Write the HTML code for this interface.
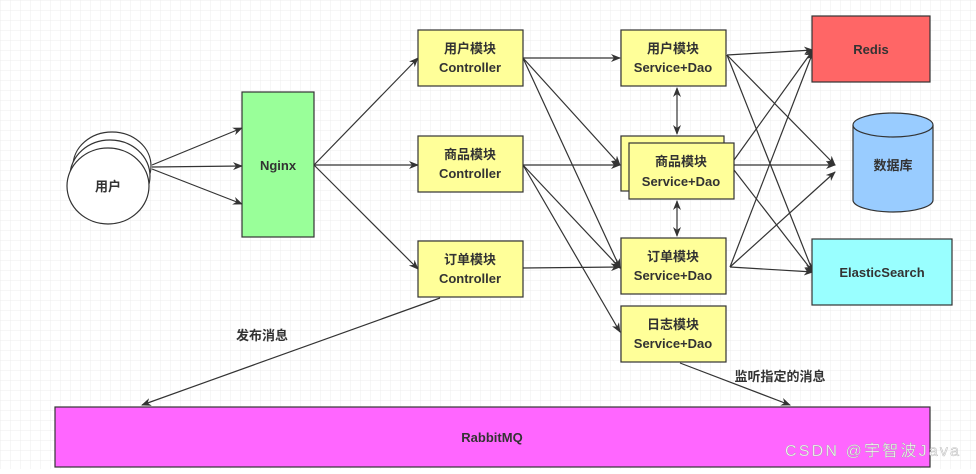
<!DOCTYPE html>
<html><head><meta charset="utf-8"><style>
html,body{margin:0;padding:0;background:#fff;}
svg text{font-family:"Liberation Sans","Noto Sans CJK SC",sans-serif;font-weight:bold;font-size:13px;fill:#333;}
</style></head><body>
<svg width="976" height="469" xmlns="http://www.w3.org/2000/svg">
<defs>
<pattern id="g" width="10" height="10" patternUnits="userSpaceOnUse"><path d="M10 0H0V10" fill="none" stroke="#ececec" stroke-width="1"/></pattern>
<marker id="a" markerWidth="10" markerHeight="8" refX="9" refY="4" orient="auto" markerUnits="userSpaceOnUse"><path d="M0 0L10 4L0 8L3 4Z" fill="#333"/></marker>
<marker id="s" markerWidth="10" markerHeight="8" refX="1" refY="4" orient="auto" markerUnits="userSpaceOnUse"><path d="M10 0L0 4L10 8L7 4Z" fill="#333"/></marker>
</defs>
<rect width="976" height="469" fill="url(#g)"/>
<g stroke="#333" stroke-width="1.2" fill="none" marker-end="url(#a)">
<path d="M152 165L242 128"/><path d="M152 167L242 166"/><path d="M152 169L242 204"/>
<path d="M314 165L418 58"/><path d="M314 165L418 165"/><path d="M314 165L418 269"/>
<path d="M523 58L620 58"/><path d="M523 58L620 165"/><path d="M523 58L620 268"/>
<path d="M523 165L620 165"/><path d="M523 165L620 268"/><path d="M523 165L620 332"/>
<path d="M523 268L620 267"/>
<path d="M727 55L813 50"/><path d="M727 55L835 165"/><path d="M727 55L813 272"/>
<path d="M734 160L813 50"/><path d="M734 165L835 165"/><path d="M734 170L813 272"/>
<path d="M730 267L813 52"/><path d="M730 267L835 172"/><path d="M730 267L813 272"/>
<path d="M677 88L677 134" marker-start="url(#s)"/><path d="M677 201L677 236" marker-start="url(#s)"/>
<path d="M440 298L142 405"/><path d="M680 363L790 405"/>
</g>
<g stroke="#333" stroke-width="1.2">
<ellipse cx="112" cy="166" rx="39" ry="34" fill="#fff"/>
<ellipse cx="110" cy="176" rx="40" ry="36" fill="#fff"/>
<ellipse cx="108" cy="186" rx="41" ry="38" fill="#fff"/>
<rect x="242" y="92" width="72" height="145" fill="#99ff99"/>
<rect x="418" y="30" width="105" height="56" fill="#ffff99"/>
<rect x="418" y="136" width="105" height="56" fill="#ffff99"/>
<rect x="418" y="241" width="105" height="56" fill="#ffff99"/>
<rect x="621" y="30" width="105" height="56" fill="#ffff99"/>
<rect x="621" y="136" width="103" height="55" fill="#ffff99"/>
<rect x="629" y="143" width="105" height="56" fill="#ffff99"/>
<rect x="621" y="238" width="105" height="56" fill="#ffff99"/>
<rect x="621" y="306" width="105" height="56" fill="#ffff99"/>
<rect x="812" y="16" width="118" height="66" fill="#ff6666"/>
<path d="M853 125V200A40 12 0 0 0 933 200V125" fill="#99ccff"/>
<ellipse cx="893" cy="125" rx="40" ry="12" fill="#99ccff"/>
<rect x="812" y="239" width="140" height="66" fill="#99ffff"/>
<rect x="55" y="407" width="875" height="60" fill="#ff66ff"/>
</g>
<g text-anchor="middle">
<text x="108" y="191">用户</text>
<text x="278" y="170">Nginx</text>
<text x="470" y="53">用户模块</text><text x="470" y="72">Controller</text>
<text x="470" y="159">商品模块</text><text x="470" y="178">Controller</text>
<text x="470" y="264">订单模块</text><text x="470" y="283">Controller</text>
<text x="673" y="53">用户模块</text><text x="673" y="72">Service+Dao</text>
<text x="681" y="166">商品模块</text><text x="681" y="186">Service+Dao</text>
<text x="673" y="261">订单模块</text><text x="673" y="280">Service+Dao</text>
<text x="673" y="329">日志模块</text><text x="673" y="348">Service+Dao</text>
<text x="871" y="54">Redis</text>
<text x="893" y="170">数据库</text>
<text x="882" y="277">ElasticSearch</text>
<text x="492" y="442">RabbitMQ</text>
<text x="262" y="340">发布消息</text>
<text x="780" y="381">监听指定的消息</text>
</g>
<text x="785" y="456" textLength="174" style="font-weight:normal;font-size:16px;fill:#f2f2f2;stroke:#999;stroke-width:0.3">CSDN @宇智波Java</text>
</svg>
</body></html>
